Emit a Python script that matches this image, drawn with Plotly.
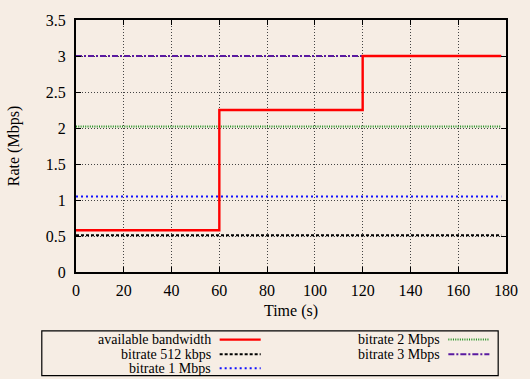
import plotly.graph_objects as go

# Available bandwidth (step profile) and constant encoding bitrates, in Mbps
bw_time = [0, 60, 60, 120, 120, 178]
bw_rate = [0.58, 0.58, 2.25, 2.25, 3.0, 3.0]

t_span = [0, 178]
rate_512k = 0.512
rate_1m = 1.05
rate_2m = 2.02
rate_3m = 3.0

x_ticks = [0, 20, 40, 60, 80, 100, 120, 140, 160, 180]
y_ticks = [0, 0.5, 1, 1.5, 2, 2.5, 3, 3.5]

BG = "#f6ede4"
FONT = "Liberation Serif"
KEY_FS = 14
TICK_FS = 16
TITLE_FS = 16

series = [
    ("available bandwidth", bw_time, bw_rate, dict(color="#ff0000", width=2.4, dash="solid")),
    ("bitrate 512 kbps", t_span, [rate_512k] * 2, dict(color="#000000", width=2, dash="3px,2px")),
    ("bitrate 1 Mbps", t_span, [rate_1m] * 2, dict(color="#1010ff", width=2, dash="2px,3px")),
    ("bitrate 2 Mbps", t_span, [rate_2m] * 2, dict(color="#1f8f1f", width=2, dash="1px,1.3px")),
    ("bitrate 3 Mbps", t_span, [rate_3m] * 2, dict(color="#5a1aa0", width=2, dash="6px,2px,2px,2px")),
]

fig = go.Figure()
# draw bitrates first, bandwidth on top
for name, xs, ys, ln in series[1:] + series[:1]:
    fig.add_trace(go.Scatter(x=xs, y=ys, mode="lines", name=name, line=ln, showlegend=False))

W, H = 530, 379
ML, MR, MT, MB = 76, 14, 13, 107
PW, PH = W - ML - MR, H - MT - MB

axis_common = dict(
    showgrid=True, gridcolor="#444444", gridwidth=1, griddash="1px,2px",
    showline=True, linecolor="black", linewidth=2, mirror="ticks",
    ticks="inside", ticklen=5, tickcolor="black", tickwidth=1,
    zeroline=False, tickfont=dict(family=FONT, size=TICK_FS, color="black"),
)
fig.update_xaxes(range=[0, 180], tickvals=x_ticks, ticktext=[str(v) for v in x_ticks],
                 ticklabelstandoff=3,
                 title=dict(text="Time (s)", font=dict(family=FONT, size=TITLE_FS, color="black"), standoff=7),
                 **axis_common)
fig.update_yaxes(range=[0, 3.5], tickvals=y_ticks, ticktext=[f"{v:g}" for v in y_ticks],
                 ticklabelstandoff=5,
                 title=dict(text="Rate (Mbps)", font=dict(family=FONT, size=TITLE_FS, color="black"), standoff=22),
                 **axis_common)

# Key box below the plot, gnuplot-style: label right-aligned, sample to its right.
# Positions given in figure pixels, converted to plot-area (paper) fractions.
def px(x):
    return (x - ML) / PW

def py(y):
    return (H - MB - y) / PH

shapes = [dict(type="rect", xref="paper", yref="paper",
               x0=px(41), x1=px(508), y0=py(378.5), y1=py(332.5),
               line=dict(color="black", width=1.2), fillcolor="rgba(0,0,0,0)")]
annotations = []
key_layout = [
    (0, 215, 223, 265), (1, 215, 223, 265), (2, 215, 223, 265),
    (3, 449, 457, 499), (4, 449, 457, 499),
]
row_y = [341.5, 356.5, 371]
for idx, text_right, s0, s1 in key_layout:
    name, _, _, ln = series[idx]
    row = idx if idx < 3 else idx - 3
    y = row_y[row]
    annotations.append(dict(text=name, xref="paper", yref="paper", x=px(text_right), y=py(y),
                            xanchor="right", yanchor="middle", showarrow=False, borderpad=0,
                            font=dict(family=FONT, size=KEY_FS, color="black")))
    shapes.append(dict(type="line", xref="paper", yref="paper", x0=px(s0), x1=px(s1),
                       y0=py(y), y1=py(y), line=ln))

fig.update_layout(
    width=W, height=H, margin=dict(l=ML, r=MR, t=MT, b=MB),
    paper_bgcolor=BG, plot_bgcolor=BG, showlegend=False,
    shapes=shapes, annotations=annotations,
    font=dict(family=FONT, color="black"),
)

fig.write_html("out.html")
